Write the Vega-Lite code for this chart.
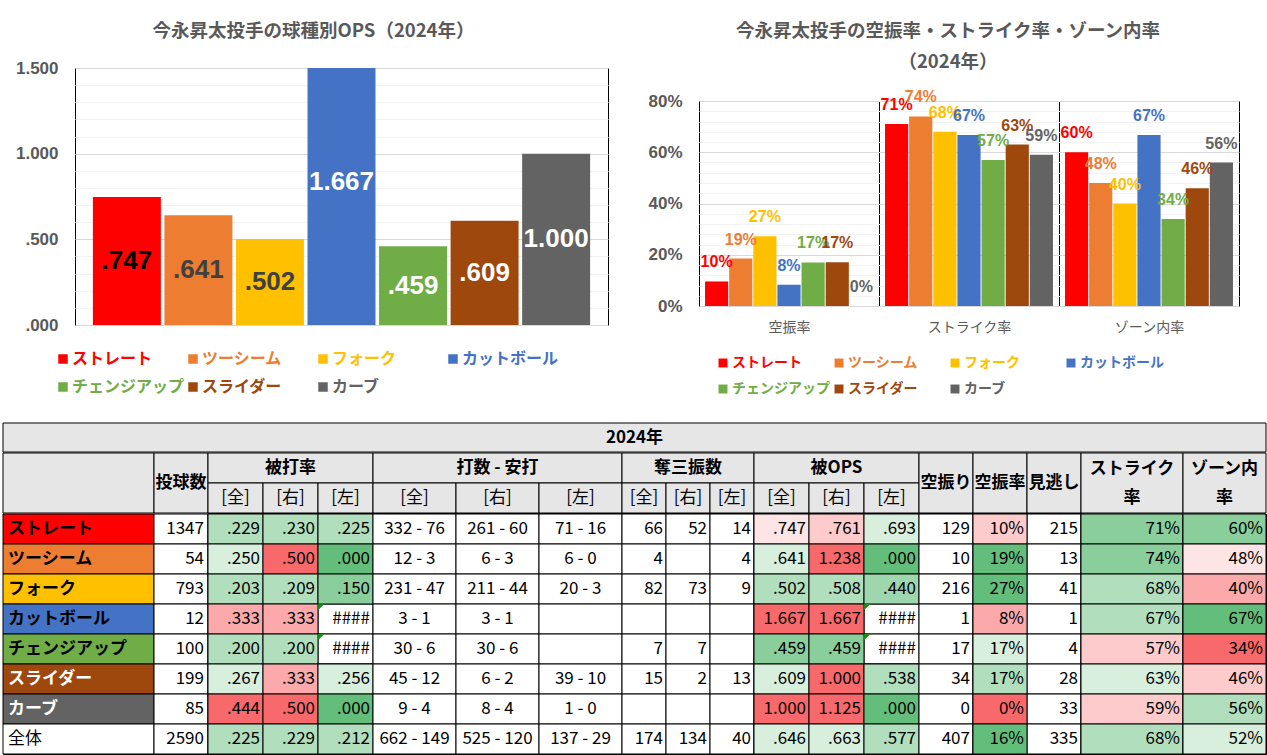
{
"$schema": "https://vega.github.io/schema/vega-lite/v6.json",
"background": "white",
"padding": {"left": 2, "top": 20, "right": 0, "bottom": 0},
"config": {"font": "Noto Sans CJK JP", "view": {"stroke": "black", "strokeWidth": 1}},
"datasets": {
"pitches": [
{"pitch":"ストレート","OPS":0.747,"OPS表示":".747","空振率":0.0958,"ストライク率":0.71,"ゾーン内率":0.60},
{"pitch":"ツーシーム","OPS":0.641,"OPS表示":".641","空振率":0.185,"ストライク率":0.74,"ゾーン内率":0.48},
{"pitch":"フォーク","OPS":0.502,"OPS表示":".502","空振率":0.272,"ストライク率":0.68,"ゾーン内率":0.40},
{"pitch":"カットボール","OPS":1.667,"OPS表示":"1.667","空振率":0.083,"ストライク率":0.667,"ゾーン内率":0.667},
{"pitch":"チェンジアップ","OPS":0.459,"OPS表示":".459","空振率":0.17,"ストライク率":0.57,"ゾーン内率":0.34},
{"pitch":"スライダー","OPS":0.609,"OPS表示":".609","空振率":0.171,"ストライク率":0.63,"ゾーン内率":0.46},
{"pitch":"カーブ","OPS":1.0,"OPS表示":"1.000","空振率":0,"ストライク率":0.59,"ゾーン内率":0.56}
],
"table": [
{"r":"ストレート","g":"name","c":"名","t":"ストレート"},
{"r":"ツーシーム","g":"name","c":"名","t":"ツーシーム"},
{"r":"フォーク","g":"name","c":"名","t":"フォーク"},
{"r":"カットボール","g":"name","c":"名","t":"カットボール"},
{"r":"チェンジアップ","g":"name","c":"名","t":"チェンジアップ"},
{"r":"スライダー","g":"name","c":"名","t":"スライダー"},
{"r":"カーブ","g":"name","c":"名","t":"カーブ"},
{"r":"全体","g":"name","c":"名","t":"全体"},
{"r":"ストレート","g":"n","c":"投球数","t":"1347"},
{"r":"ツーシーム","g":"n","c":"投球数","t":"54"},
{"r":"フォーク","g":"n","c":"投球数","t":"793"},
{"r":"カットボール","g":"n","c":"投球数","t":"12"},
{"r":"チェンジアップ","g":"n","c":"投球数","t":"100"},
{"r":"スライダー","g":"n","c":"投球数","t":"199"},
{"r":"カーブ","g":"n","c":"投球数","t":"85"},
{"r":"全体","g":"n","c":"投球数","t":"2590"},
{"r":"ストレート","g":"ba","c":"全","t":".229","h":-2},
{"r":"ストレート","g":"ba","c":"右","t":".230","h":-2},
{"r":"ストレート","g":"ba","c":"左","t":".225","h":-2},
{"r":"ツーシーム","g":"ba","c":"全","t":".250","h":-1},
{"r":"ツーシーム","g":"ba","c":"右","t":".500","h":4},
{"r":"ツーシーム","g":"ba","c":"左","t":".000","h":-4},
{"r":"フォーク","g":"ba","c":"全","t":".203","h":-2},
{"r":"フォーク","g":"ba","c":"右","t":".209","h":-2},
{"r":"フォーク","g":"ba","c":"左","t":".150","h":-3},
{"r":"カットボール","g":"ba","c":"全","t":".333","h":2.3},
{"r":"カットボール","g":"ba","c":"右","t":".333","h":2.3},
{"r":"カットボール","g":"ba","c":"左","t":"####"},
{"r":"チェンジアップ","g":"ba","c":"全","t":".200","h":-2},
{"r":"チェンジアップ","g":"ba","c":"右","t":".200","h":-2},
{"r":"チェンジアップ","g":"ba","c":"左","t":"####"},
{"r":"スライダー","g":"ba","c":"全","t":".267","h":-1},
{"r":"スライダー","g":"ba","c":"右","t":".333","h":2.3},
{"r":"スライダー","g":"ba","c":"左","t":".256","h":-1},
{"r":"カーブ","g":"ba","c":"全","t":".444","h":4},
{"r":"カーブ","g":"ba","c":"右","t":".500","h":4},
{"r":"カーブ","g":"ba","c":"左","t":".000","h":-4},
{"r":"全体","g":"ba","c":"全","t":".225","h":-2},
{"r":"全体","g":"ba","c":"右","t":".229","h":-2},
{"r":"全体","g":"ba","c":"左","t":".212","h":-2},
{"r":"ストレート","g":"ab","c":"全","t":"332 - 76"},
{"r":"ストレート","g":"ab","c":"右","t":"261 - 60"},
{"r":"ストレート","g":"ab","c":"左","t":"71 - 16"},
{"r":"ツーシーム","g":"ab","c":"全","t":"12 - 3"},
{"r":"ツーシーム","g":"ab","c":"右","t":"6 - 3"},
{"r":"ツーシーム","g":"ab","c":"左","t":"6 - 0"},
{"r":"フォーク","g":"ab","c":"全","t":"231 - 47"},
{"r":"フォーク","g":"ab","c":"右","t":"211 - 44"},
{"r":"フォーク","g":"ab","c":"左","t":"20 - 3"},
{"r":"カットボール","g":"ab","c":"全","t":"3 - 1"},
{"r":"カットボール","g":"ab","c":"右","t":"3 - 1"},
{"r":"カットボール","g":"ab","c":"左","t":""},
{"r":"チェンジアップ","g":"ab","c":"全","t":"30 - 6"},
{"r":"チェンジアップ","g":"ab","c":"右","t":"30 - 6"},
{"r":"チェンジアップ","g":"ab","c":"左","t":""},
{"r":"スライダー","g":"ab","c":"全","t":"45 - 12"},
{"r":"スライダー","g":"ab","c":"右","t":"6 - 2"},
{"r":"スライダー","g":"ab","c":"左","t":"39 - 10"},
{"r":"カーブ","g":"ab","c":"全","t":"9 - 4"},
{"r":"カーブ","g":"ab","c":"右","t":"8 - 4"},
{"r":"カーブ","g":"ab","c":"左","t":"1 - 0"},
{"r":"全体","g":"ab","c":"全","t":"662 - 149"},
{"r":"全体","g":"ab","c":"右","t":"525 - 120"},
{"r":"全体","g":"ab","c":"左","t":"137 - 29"},
{"r":"ストレート","g":"so","c":"全","t":"66"},
{"r":"ストレート","g":"so","c":"右","t":"52"},
{"r":"ストレート","g":"so","c":"左","t":"14"},
{"r":"ツーシーム","g":"so","c":"全","t":"4"},
{"r":"ツーシーム","g":"so","c":"右","t":""},
{"r":"ツーシーム","g":"so","c":"左","t":"4"},
{"r":"フォーク","g":"so","c":"全","t":"82"},
{"r":"フォーク","g":"so","c":"右","t":"73"},
{"r":"フォーク","g":"so","c":"左","t":"9"},
{"r":"カットボール","g":"so","c":"全","t":""},
{"r":"カットボール","g":"so","c":"右","t":""},
{"r":"カットボール","g":"so","c":"左","t":""},
{"r":"チェンジアップ","g":"so","c":"全","t":"7"},
{"r":"チェンジアップ","g":"so","c":"右","t":"7"},
{"r":"チェンジアップ","g":"so","c":"左","t":""},
{"r":"スライダー","g":"so","c":"全","t":"15"},
{"r":"スライダー","g":"so","c":"右","t":"2"},
{"r":"スライダー","g":"so","c":"左","t":"13"},
{"r":"カーブ","g":"so","c":"全","t":""},
{"r":"カーブ","g":"so","c":"右","t":""},
{"r":"カーブ","g":"so","c":"左","t":""},
{"r":"全体","g":"so","c":"全","t":"174"},
{"r":"全体","g":"so","c":"右","t":"134"},
{"r":"全体","g":"so","c":"左","t":"40"},
{"r":"ストレート","g":"ops","c":"全","t":".747","h":0.7},
{"r":"ストレート","g":"ops","c":"右","t":".761","h":1.4},
{"r":"ストレート","g":"ops","c":"左","t":".693","h":-1},
{"r":"ツーシーム","g":"ops","c":"全","t":".641","h":-1},
{"r":"ツーシーム","g":"ops","c":"右","t":"1.238","h":4},
{"r":"ツーシーム","g":"ops","c":"左","t":".000","h":-4},
{"r":"フォーク","g":"ops","c":"全","t":".502","h":-2},
{"r":"フォーク","g":"ops","c":"右","t":".508","h":-2},
{"r":"フォーク","g":"ops","c":"左","t":".440","h":-2.5},
{"r":"カットボール","g":"ops","c":"全","t":"1.667","h":4},
{"r":"カットボール","g":"ops","c":"右","t":"1.667","h":4},
{"r":"カットボール","g":"ops","c":"左","t":"####"},
{"r":"チェンジアップ","g":"ops","c":"全","t":".459","h":-3},
{"r":"チェンジアップ","g":"ops","c":"右","t":".459","h":-3},
{"r":"チェンジアップ","g":"ops","c":"左","t":"####"},
{"r":"スライダー","g":"ops","c":"全","t":".609","h":-1},
{"r":"スライダー","g":"ops","c":"右","t":"1.000","h":4},
{"r":"スライダー","g":"ops","c":"左","t":".538","h":-2},
{"r":"カーブ","g":"ops","c":"全","t":"1.000","h":4},
{"r":"カーブ","g":"ops","c":"右","t":"1.125","h":4},
{"r":"カーブ","g":"ops","c":"左","t":".000","h":-4},
{"r":"全体","g":"ops","c":"全","t":".646","h":-1},
{"r":"全体","g":"ops","c":"右","t":".663","h":-1},
{"r":"全体","g":"ops","c":"左","t":".577","h":-2},
{"r":"ストレート","g":"misc","c":"空振り","t":"129"},
{"r":"ストレート","g":"misc","c":"空振率","t":"10%","h":1.4},
{"r":"ストレート","g":"misc","c":"見逃し","t":"215"},
{"r":"ツーシーム","g":"misc","c":"空振り","t":"10"},
{"r":"ツーシーム","g":"misc","c":"空振率","t":"19%","h":-4},
{"r":"ツーシーム","g":"misc","c":"見逃し","t":"13"},
{"r":"フォーク","g":"misc","c":"空振り","t":"216"},
{"r":"フォーク","g":"misc","c":"空振率","t":"27%","h":-4},
{"r":"フォーク","g":"misc","c":"見逃し","t":"41"},
{"r":"カットボール","g":"misc","c":"空振り","t":"1"},
{"r":"カットボール","g":"misc","c":"空振率","t":"8%","h":2.3},
{"r":"カットボール","g":"misc","c":"見逃し","t":"1"},
{"r":"チェンジアップ","g":"misc","c":"空振り","t":"17"},
{"r":"チェンジアップ","g":"misc","c":"空振率","t":"17%","h":-1},
{"r":"チェンジアップ","g":"misc","c":"見逃し","t":"4"},
{"r":"スライダー","g":"misc","c":"空振り","t":"34"},
{"r":"スライダー","g":"misc","c":"空振率","t":"17%","h":-2},
{"r":"スライダー","g":"misc","c":"見逃し","t":"28"},
{"r":"カーブ","g":"misc","c":"空振り","t":"0"},
{"r":"カーブ","g":"misc","c":"空振率","t":"0%","h":4},
{"r":"カーブ","g":"misc","c":"見逃し","t":"33"},
{"r":"全体","g":"misc","c":"空振り","t":"407"},
{"r":"全体","g":"misc","c":"空振率","t":"16%","h":-4},
{"r":"全体","g":"misc","c":"見逃し","t":"335"},
{"r":"ストレート","g":"st","c":"ストライク率","t":"71%","h":-3},
{"r":"ツーシーム","g":"st","c":"ストライク率","t":"74%","h":-3},
{"r":"フォーク","g":"st","c":"ストライク率","t":"68%","h":-2},
{"r":"カットボール","g":"st","c":"ストライク率","t":"67%","h":-2},
{"r":"チェンジアップ","g":"st","c":"ストライク率","t":"57%","h":1.4},
{"r":"スライダー","g":"st","c":"ストライク率","t":"63%","h":-1},
{"r":"カーブ","g":"st","c":"ストライク率","t":"59%","h":1.4},
{"r":"全体","g":"st","c":"ストライク率","t":"68%","h":-2},
{"r":"ストレート","g":"zone","c":"ゾーン内率","t":"60%","h":-3},
{"r":"ツーシーム","g":"zone","c":"ゾーン内率","t":"48%","h":0.7},
{"r":"フォーク","g":"zone","c":"ゾーン内率","t":"40%","h":2.3},
{"r":"カットボール","g":"zone","c":"ゾーン内率","t":"67%","h":-4},
{"r":"チェンジアップ","g":"zone","c":"ゾーン内率","t":"34%","h":4},
{"r":"スライダー","g":"zone","c":"ゾーン内率","t":"46%","h":1.4},
{"r":"カーブ","g":"zone","c":"ゾーン内率","t":"56%","h":-2},
{"r":"全体","g":"zone","c":"ゾーン内率","t":"52%","h":-1}
]
},
"spacing": 25,
"resolve": {"scale": {"color": "independent", "fill": "independent"}, "legend": {"color": "independent"}},
"vconcat": [
{
"hconcat": [
{"width": 1, "height": 1, "data": {"values": [{"k": 1}]}, "mark": {"type": "rect", "opacity": 0}, "encoding": {}, "view": {"stroke": null}},
{"vconcat": [
{"width": 1, "height": 1, "data": {"values": [{"k": 1}]}, "mark": {"type": "rect", "opacity": 0}, "encoding": {}, "view": {"stroke": null}},
{
"width": 533, "height": 257,
"title": {"text": "今永昇太投手の球種別OPS（2024年）", "font": "Noto Sans CJK JP", "fontSize": 18.5, "fontWeight": "bold", "color": "#595959", "anchor": "middle", "dx": -28, "offset": 19},
"data": {"name": "pitches"},
"encoding": {"x": {"field": "pitch", "type": "nominal", "axis": null, "sort": null, "scale": {"domain": ["ストレート","ツーシーム","フォーク","カットボール","チェンジアップ","スライダー","カーブ"], "paddingInner": 0.05, "paddingOuter": 0.25}}},
"layer": [
{"mark": {"type": "bar", "clip": true},
 "encoding": {
  "y": {"field": "OPS", "type": "quantitative", "scale": {"domain": [0, 1.5], "nice": false},
        "axis": {"title": null, "values": [0,0.1,0.2,0.3,0.4,0.5,0.6,0.7,0.8,0.9,1.0,1.1,1.2,1.3,1.4,1.5],
                 "labelExpr": "round(datum.value*10) % 5 === 0 ? (datum.value < 1 ? slice(format(datum.value, '.3f'), 1) : format(datum.value, '.3f')) : ''",
                 "grid": true, "gridColor": {"condition": {"test": "round(datum.value*10) % 5 === 0", "value": "#D9D9D9"}, "value": "#F2F2F2"},
                 "domain": false, "ticks": false, "labelOverlap": false, "labelFont": "Liberation Sans", "labelFontSize": 17, "labelFontWeight": "bold", "labelColor": "#595959", "labelPadding": 17, "minExtent": 70}},
  "color": {"field": "pitch", "type": "nominal", "scale": {"domain": ["ストレート","ツーシーム","フォーク","カットボール","チェンジアップ","スライダー","カーブ"], "range": ["#FF0000","#ED7D31","#FFC000","#4472C4","#70AD47","#9E480E","#636363"]},
            "legend": {"title": null, "orient": "none", "legendX": -20, "legendY": 283, "direction": "horizontal", "columns": 4, "gridAlign": "all", "symbolType": "square", "symbolSize": 90, "symbolStrokeWidth": 0, "labelFont": "Noto Sans CJK JP", "labelFontSize": 16, "labelFontWeight": "bold", "labelOffset": 1, "columnPadding": 0, "rowPadding": 12,
                       "encode": {"labels": {"update": {"fill": {"signal": "['#FF0000','#ED7D31','#FFC000','#4472C4','#70AD47','#9E480E','#636363'][indexof(['ストレート','ツーシーム','フォーク','カットボール','チェンジアップ','スライダー','カーブ'], datum.value)]"}}}}}}
 }},
{"mark": {"type": "text", "font": "Liberation Sans", "fontSize": 26, "fontWeight": "bold", "baseline": "middle"},
 "encoding": {
  "y": {"field": "OPS", "type": "quantitative", "scale": {"domain": [0, 3], "nice": false}, "axis": null},
  "text": {"field": "OPS表示", "type": "nominal"},
  "color": {"condition": [{"test": "datum.pitch === 'ストレート'", "value": "#000000"}, {"test": "datum.pitch === 'ツーシーム' || datum.pitch === 'フォーク'", "value": "#404040"}], "value": "#FFFFFF"}
 }}
],
"resolve": {"scale": {"y": "independent"}}
}
], "spacing": 0, "resolve": {"scale": {"color": "independent"}, "legend": {"color": "independent"}}},
{"vconcat": [
{"width": 1, "height": 1, "data": {"values": [{"k": 1}]}, "mark": {"type": "rect", "opacity": 0}, "encoding": {}, "view": {"stroke": null}},
{
"width": 540, "height": 205,
"title": {"text": ["今永昇太投手の空振率・ストライク率・ゾーン内率", "（2024年）"], "lineHeight": 31, "font": "Noto Sans CJK JP", "fontSize": 18.5, "fontWeight": "bold", "color": "#595959", "anchor": "middle", "dx": -21, "offset": 18},
"data": {"name": "pitches"},
"transform": [{"fold": ["空振率", "ストライク率", "ゾーン内率"], "as": ["metric", "rate"]}],
"encoding": {
 "x": {"field": "metric", "type": "nominal", "sort": null, "scale": {"domain": ["空振率", "ストライク率", "ゾーン内率"], "paddingInner": 0, "paddingOuter": 0},
       "axis": {"title": null, "labelAngle": 0, "grid": true, "tickBand": "extent", "gridColor": "#000000", "ticks": false, "domain": false, "labelFont": "Noto Sans CJK JP", "labelFontSize": 14, "labelColor": "#595959", "labelPadding": 14}},
 "xOffset": {"field": "pitch", "type": "nominal", "sort": null, "scale": {"domain": ["ストレート","ツーシーム","フォーク","カットボール","チェンジアップ","スライダー","カーブ"], "paddingInner": 0.04, "paddingOuter": 0.25}},
 "y": {"field": "rate", "type": "quantitative", "scale": {"domain": [0, 0.8], "nice": false},
       "axis": {"title": null, "values": [0,0.04,0.08,0.12,0.16,0.2,0.24,0.28,0.32,0.36,0.4,0.44,0.48,0.52,0.56,0.6,0.64,0.68,0.72,0.76,0.8],
                "labelExpr": "round(datum.value*100) % 20 === 0 ? format(datum.value, '.0%') : ''",
                "grid": true, "gridColor": {"condition": {"test": "round(datum.value*100) % 20 === 0", "value": "#D9D9D9"}, "value": "#F2F2F2"},
                "domain": false, "ticks": false, "labelOverlap": false, "labelFont": "Liberation Sans", "labelFontSize": 17, "labelFontWeight": "bold", "labelColor": "#595959", "labelPadding": 17, "minExtent": 89}},
 "color": {"field": "pitch", "type": "nominal", "scale": {"domain": ["ストレート","ツーシーム","フォーク","カットボール","チェンジアップ","スライダー","カーブ"], "range": ["#FF0000","#ED7D31","#FFC000","#4472C4","#70AD47","#9E480E","#636363"]},
           "legend": {"title": null, "orient": "none", "legendX": 17, "legendY": 255, "direction": "horizontal", "columns": 4, "gridAlign": "all", "symbolType": "square", "symbolSize": 80, "symbolStrokeWidth": 0, "labelFont": "Noto Sans CJK JP", "labelFontSize": 14, "labelFontWeight": "bold", "labelOffset": 2, "columnPadding": 2, "rowPadding": 12,
                      "encode": {"labels": {"update": {"fill": {"signal": "['#FF0000','#ED7D31','#FFC000','#4472C4','#70AD47','#9E480E','#636363'][indexof(['ストレート','ツーシーム','フォーク','カットボール','チェンジアップ','スライダー','カーブ'], datum.value)]"}}}}}}
},
"layer": [
 {"mark": {"type": "bar"}},
 {"mark": {"type": "text", "font": "Liberation Sans", "fontSize": 16, "fontWeight": "bold", "baseline": "middle", "dy": -19},
  "encoding": {"text": {"field": "rate", "type": "quantitative", "format": ".0%"}}}
]
}
], "spacing": 0, "resolve": {"scale": {"color": "independent"}, "legend": {"color": "independent"}}}
],
"spacing": 0,
"resolve": {"scale": {"color": "independent"}, "legend": {"color": "independent"}}
},
{
"vconcat": [
{"width": 1263, "height": 29, "data": {"values": [{"label": "2024年"}]},
 "layer": [
  {"mark": {"type": "rect", "fill": "#E7E6E6", "stroke": "black", "strokeWidth": 1}, "encoding": {}},
  {"mark": {"type": "text", "fontSize": 17, "fontWeight": "bold"}, "encoding": {"text": {"field": "label", "type": "nominal"}}}
 ]},
{"hconcat": [
 {"width": 151, "height": 60, "data": {"values": [{"label": ""}]},
  "mark": {"type": "rect", "fill": "#E7E6E6", "stroke": "black", "strokeWidth": 1}, "encoding": {}},
 {"width": 54, "height": 60, "data": {"values": [{"label": "投球数"}]},
  "layer": [
   {"mark": {"type": "rect", "fill": "#E7E6E6", "stroke": "black", "strokeWidth": 1}, "encoding": {}},
   {"mark": {"type": "text", "fontSize": 17, "fontWeight": "bold"}, "encoding": {"text": {"field": "label", "type": "nominal"}}}
  ]},
 {"width": 165, "height": 60,
  "data": {"values": [{"row": "top", "col": "全", "label": "被打率"}, {"row": "sub", "col": "全", "label": "[全]"}, {"row": "sub", "col": "右", "label": "[右]"}, {"row": "sub", "col": "左", "label": "[左]"}]},
  "encoding": {"y": {"field": "row", "type": "nominal", "axis": null, "scale": {"domain": ["top", "sub"], "padding": 0}}},
  "layer": [
   {"transform": [{"filter": "datum.row === 'top'"}], "mark": {"type": "rect", "fill": "#E7E6E6", "stroke": "black", "strokeWidth": 1}},
   {"transform": [{"filter": "datum.row === 'top'"}], "mark": {"type": "text", "fontSize": 17, "fontWeight": "bold"}, "encoding": {"text": {"field": "label", "type": "nominal"}}},
   {"transform": [{"filter": "datum.row === 'sub'"}], "mark": {"type": "rect", "fill": "#E7E6E6", "stroke": "black", "strokeWidth": 1}, "encoding": {"x": {"field": "col", "type": "nominal", "axis": null, "scale": {"domain": ["全", "右", "左"], "padding": 0}}}},
   {"transform": [{"filter": "datum.row === 'sub'"}], "mark": {"type": "text", "fontSize": 17}, "encoding": {"x": {"field": "col", "type": "nominal", "axis": null, "scale": {"domain": ["全", "右", "左"], "padding": 0}}, "text": {"field": "label", "type": "nominal"}}}
  ]},
 {"width": 249, "height": 60,
  "data": {"values": [{"row": "top", "col": "全", "label": "打数 - 安打"}, {"row": "sub", "col": "全", "label": "[全]"}, {"row": "sub", "col": "右", "label": "[右]"}, {"row": "sub", "col": "左", "label": "[左]"}]},
  "encoding": {"y": {"field": "row", "type": "nominal", "axis": null, "scale": {"domain": ["top", "sub"], "padding": 0}}},
  "layer": [
   {"transform": [{"filter": "datum.row === 'top'"}], "mark": {"type": "rect", "fill": "#E7E6E6", "stroke": "black", "strokeWidth": 1}},
   {"transform": [{"filter": "datum.row === 'top'"}], "mark": {"type": "text", "fontSize": 17, "fontWeight": "bold"}, "encoding": {"text": {"field": "label", "type": "nominal"}}},
   {"transform": [{"filter": "datum.row === 'sub'"}], "mark": {"type": "rect", "fill": "#E7E6E6", "stroke": "black", "strokeWidth": 1}, "encoding": {"x": {"field": "col", "type": "nominal", "axis": null, "scale": {"domain": ["全", "右", "左"], "padding": 0}}}},
   {"transform": [{"filter": "datum.row === 'sub'"}], "mark": {"type": "text", "fontSize": 17}, "encoding": {"x": {"field": "col", "type": "nominal", "axis": null, "scale": {"domain": ["全", "右", "左"], "padding": 0}}, "text": {"field": "label", "type": "nominal"}}}
  ]},
 {"width": 132, "height": 60,
  "data": {"values": [{"row": "top", "col": "全", "label": "奪三振数"}, {"row": "sub", "col": "全", "label": "[全]"}, {"row": "sub", "col": "右", "label": "[右]"}, {"row": "sub", "col": "左", "label": "[左]"}]},
  "encoding": {"y": {"field": "row", "type": "nominal", "axis": null, "scale": {"domain": ["top", "sub"], "padding": 0}}},
  "layer": [
   {"transform": [{"filter": "datum.row === 'top'"}], "mark": {"type": "rect", "fill": "#E7E6E6", "stroke": "black", "strokeWidth": 1}},
   {"transform": [{"filter": "datum.row === 'top'"}], "mark": {"type": "text", "fontSize": 17, "fontWeight": "bold"}, "encoding": {"text": {"field": "label", "type": "nominal"}}},
   {"transform": [{"filter": "datum.row === 'sub'"}], "mark": {"type": "rect", "fill": "#E7E6E6", "stroke": "black", "strokeWidth": 1}, "encoding": {"x": {"field": "col", "type": "nominal", "axis": null, "scale": {"domain": ["全", "右", "左"], "padding": 0}}}},
   {"transform": [{"filter": "datum.row === 'sub'"}], "mark": {"type": "text", "fontSize": 17}, "encoding": {"x": {"field": "col", "type": "nominal", "axis": null, "scale": {"domain": ["全", "右", "左"], "padding": 0}}, "text": {"field": "label", "type": "nominal"}}}
  ]},
 {"width": 165, "height": 60,
  "data": {"values": [{"row": "top", "col": "全", "label": "被OPS"}, {"row": "sub", "col": "全", "label": "[全]"}, {"row": "sub", "col": "右", "label": "[右]"}, {"row": "sub", "col": "左", "label": "[左]"}]},
  "encoding": {"y": {"field": "row", "type": "nominal", "axis": null, "scale": {"domain": ["top", "sub"], "padding": 0}}},
  "layer": [
   {"transform": [{"filter": "datum.row === 'top'"}], "mark": {"type": "rect", "fill": "#E7E6E6", "stroke": "black", "strokeWidth": 1}},
   {"transform": [{"filter": "datum.row === 'top'"}], "mark": {"type": "text", "fontSize": 17, "fontWeight": "bold"}, "encoding": {"text": {"field": "label", "type": "nominal"}}},
   {"transform": [{"filter": "datum.row === 'sub'"}], "mark": {"type": "rect", "fill": "#E7E6E6", "stroke": "black", "strokeWidth": 1}, "encoding": {"x": {"field": "col", "type": "nominal", "axis": null, "scale": {"domain": ["全", "右", "左"], "padding": 0}}}},
   {"transform": [{"filter": "datum.row === 'sub'"}], "mark": {"type": "text", "fontSize": 17}, "encoding": {"x": {"field": "col", "type": "nominal", "axis": null, "scale": {"domain": ["全", "右", "左"], "padding": 0}}, "text": {"field": "label", "type": "nominal"}}}
  ]},
 {"width": 162, "height": 60,
  "data": {"values": [{"col": "空振り"}, {"col": "空振率"}, {"col": "見逃し"}]},
  "encoding": {"x": {"field": "col", "type": "nominal", "axis": null, "scale": {"domain": ["空振り", "空振率", "見逃し"], "padding": 0}}},
  "layer": [
   {"mark": {"type": "rect", "fill": "#E7E6E6", "stroke": "black", "strokeWidth": 1}},
   {"mark": {"type": "text", "fontSize": 17, "fontWeight": "bold"}, "encoding": {"text": {"field": "col", "type": "nominal"}}}
  ]},
 {"width": 102, "height": 60, "data": {"values": [{"label": ["ストライク", "率"]}]},
  "layer": [
   {"mark": {"type": "rect", "fill": "#E7E6E6", "stroke": "black", "strokeWidth": 1}, "encoding": {}},
   {"mark": {"type": "text", "fontSize": 17, "fontWeight": "bold", "lineHeight": 29, "dy": -14.5}, "encoding": {"text": {"field": "label", "type": "nominal"}}}
  ]},
 {"width": 83, "height": 60, "data": {"values": [{"label": ["ゾーン内", "率"]}]},
  "layer": [
   {"mark": {"type": "rect", "fill": "#E7E6E6", "stroke": "black", "strokeWidth": 1}, "encoding": {}},
   {"mark": {"type": "text", "fontSize": 17, "fontWeight": "bold", "lineHeight": 29, "dy": -14.5}, "encoding": {"text": {"field": "label", "type": "nominal"}}}
  ]}
], "spacing": 0, "bounds": "flush"},
{"hconcat": [
 {"width": 151, "height": 240, "data": {"name": "table"}, "transform": [{"filter": "datum.g === 'name'"}],
  "encoding": {"x": {"field": "c", "type": "nominal", "axis": null, "scale": {"padding": 0}},
               "y": {"field": "r", "type": "nominal", "axis": null, "scale": {"domain": ["ストレート","ツーシーム","フォーク","カットボール","チェンジアップ","スライダー","カーブ","全体"], "padding": 0}}},
  "layer": [
   {"mark": {"type": "rect", "stroke": "black", "strokeWidth": 1},
    "encoding": {"fill": {"field": "r", "type": "nominal", "scale": {"domain": ["ストレート","ツーシーム","フォーク","カットボール","チェンジアップ","スライダー","カーブ","全体"], "range": ["#FF0000","#ED7D31","#FFC000","#4472C4","#70AD47","#9E480E","#636363","#FFFFFF"]}, "legend": null}}},
   {"transform": [{"filter": "datum.r !== '全体'"}], "mark": {"type": "text", "align": "left", "dx": 5, "fontSize": 17, "fontWeight": "bold"},
    "encoding": {"x": {"field": "c", "type": "nominal", "axis": null, "scale": {"padding": 0}, "bandPosition": 0}, "text": {"field": "t", "type": "nominal"},
                 "color": {"condition": {"test": "datum.r === 'スライダー' || datum.r === 'カーブ'", "value": "#FFFFFF"}, "value": "#000000"}}},
   {"transform": [{"filter": "datum.r === '全体'"}], "mark": {"type": "text", "align": "left", "dx": 5, "fontSize": 17, "color": "#000000"},
    "encoding": {"x": {"field": "c", "type": "nominal", "axis": null, "scale": {"padding": 0}, "bandPosition": 0}, "text": {"field": "t", "type": "nominal"}}}
  ]},
 {"width": 54, "height": 240, "data": {"name": "table"}, "transform": [{"filter": "datum.g === 'n'"}],
  "encoding": {"x": {"field": "c", "type": "nominal", "axis": null, "scale": {"padding": 0}},
               "y": {"field": "r", "type": "nominal", "axis": null, "scale": {"domain": ["ストレート","ツーシーム","フォーク","カットボール","チェンジアップ","スライダー","カーブ","全体"], "padding": 0}}},
  "layer": [
   {"mark": {"type": "rect", "fill": "#FFFFFF", "stroke": "black", "strokeWidth": 1}},
   {"mark": {"type": "text", "align": "right", "dx": -4, "fontSize": 17, "color": "#000000"},
    "encoding": {"x": {"field": "c", "type": "nominal", "axis": null, "scale": {"padding": 0}, "bandPosition": 1}, "text": {"field": "t", "type": "nominal"}}}
  ]},
 {"width": 165, "height": 240, "data": {"name": "table"}, "transform": [{"filter": "datum.g === 'ba'"}],
  "encoding": {"x": {"field": "c", "type": "nominal", "axis": null, "scale": {"domain": ["全", "右", "左"], "padding": 0}},
               "y": {"field": "r", "type": "nominal", "axis": null, "scale": {"domain": ["ストレート","ツーシーム","フォーク","カットボール","チェンジアップ","スライダー","カーブ","全体"], "padding": 0}}},
  "layer": [
   {"mark": {"type": "rect", "fill": "#FFFFFF", "stroke": "black", "strokeWidth": 1}},
   {"transform": [{"filter": "isValid(datum.h)"}], "mark": {"type": "rect", "stroke": "black", "strokeWidth": 1},
    "encoding": {"fill": {"field": "h", "type": "quantitative", "scale": {"domain": [-4, 0, 4], "range": ["#63BE7B", "#FFFFFF", "#F8696B"], "interpolate": "rgb", "zero": false, "nice": false}, "legend": null}}},
   {"transform": [{"filter": "datum.t === '####'"}], "mark": {"type": "point", "shape": "M0,0L1,0L0,1Z", "filled": true, "color": "#178A17", "size": 160, "strokeWidth": 0, "opacity": 1, "dx": 1, "dy": 1},
    "encoding": {"x": {"field": "c", "type": "nominal", "axis": null, "scale": {"domain": ["全", "右", "左"], "padding": 0}, "bandPosition": 0},
                 "y": {"field": "r", "type": "nominal", "axis": null, "scale": {"domain": ["ストレート","ツーシーム","フォーク","カットボール","チェンジアップ","スライダー","カーブ","全体"], "padding": 0}, "bandPosition": 0}}},
   {"mark": {"type": "text", "align": "right", "dx": -3, "fontSize": 17, "color": "#000000"},
    "encoding": {"x": {"field": "c", "type": "nominal", "axis": null, "scale": {"domain": ["全", "右", "左"], "padding": 0}, "bandPosition": 1}, "text": {"field": "t", "type": "nominal"}}}
  ]},
 {"width": 249, "height": 240, "data": {"name": "table"}, "transform": [{"filter": "datum.g === 'ab'"}],
  "encoding": {"x": {"field": "c", "type": "nominal", "axis": null, "scale": {"domain": ["全", "右", "左"], "padding": 0}},
               "y": {"field": "r", "type": "nominal", "axis": null, "scale": {"domain": ["ストレート","ツーシーム","フォーク","カットボール","チェンジアップ","スライダー","カーブ","全体"], "padding": 0}}},
  "layer": [
   {"mark": {"type": "rect", "fill": "#FFFFFF", "stroke": "black", "strokeWidth": 1}},
   {"mark": {"type": "text", "align": "center", "fontSize": 17, "color": "#000000"}, "encoding": {"text": {"field": "t", "type": "nominal"}}}
  ]},
 {"width": 132, "height": 240, "data": {"name": "table"}, "transform": [{"filter": "datum.g === 'so'"}],
  "encoding": {"x": {"field": "c", "type": "nominal", "axis": null, "scale": {"domain": ["全", "右", "左"], "padding": 0}},
               "y": {"field": "r", "type": "nominal", "axis": null, "scale": {"domain": ["ストレート","ツーシーム","フォーク","カットボール","チェンジアップ","スライダー","カーブ","全体"], "padding": 0}}},
  "layer": [
   {"mark": {"type": "rect", "fill": "#FFFFFF", "stroke": "black", "strokeWidth": 1}},
   {"mark": {"type": "text", "align": "right", "dx": -3, "fontSize": 17, "color": "#000000"},
    "encoding": {"x": {"field": "c", "type": "nominal", "axis": null, "scale": {"domain": ["全", "右", "左"], "padding": 0}, "bandPosition": 1}, "text": {"field": "t", "type": "nominal"}}}
  ]},
 {"width": 165, "height": 240, "data": {"name": "table"}, "transform": [{"filter": "datum.g === 'ops'"}],
  "encoding": {"x": {"field": "c", "type": "nominal", "axis": null, "scale": {"domain": ["全", "右", "左"], "padding": 0}},
               "y": {"field": "r", "type": "nominal", "axis": null, "scale": {"domain": ["ストレート","ツーシーム","フォーク","カットボール","チェンジアップ","スライダー","カーブ","全体"], "padding": 0}}},
  "layer": [
   {"mark": {"type": "rect", "fill": "#FFFFFF", "stroke": "black", "strokeWidth": 1}},
   {"transform": [{"filter": "isValid(datum.h)"}], "mark": {"type": "rect", "stroke": "black", "strokeWidth": 1},
    "encoding": {"fill": {"field": "h", "type": "quantitative", "scale": {"domain": [-4, 0, 4], "range": ["#63BE7B", "#FFFFFF", "#F8696B"], "interpolate": "rgb", "zero": false, "nice": false}, "legend": null}}},
   {"transform": [{"filter": "datum.t === '####'"}], "mark": {"type": "point", "shape": "M0,0L1,0L0,1Z", "filled": true, "color": "#178A17", "size": 160, "strokeWidth": 0, "opacity": 1, "dx": 1, "dy": 1},
    "encoding": {"x": {"field": "c", "type": "nominal", "axis": null, "scale": {"domain": ["全", "右", "左"], "padding": 0}, "bandPosition": 0},
                 "y": {"field": "r", "type": "nominal", "axis": null, "scale": {"domain": ["ストレート","ツーシーム","フォーク","カットボール","チェンジアップ","スライダー","カーブ","全体"], "padding": 0}, "bandPosition": 0}}},
   {"mark": {"type": "text", "align": "right", "dx": -3, "fontSize": 17, "color": "#000000"},
    "encoding": {"x": {"field": "c", "type": "nominal", "axis": null, "scale": {"domain": ["全", "右", "左"], "padding": 0}, "bandPosition": 1}, "text": {"field": "t", "type": "nominal"}}}
  ]},
 {"width": 162, "height": 240, "data": {"name": "table"}, "transform": [{"filter": "datum.g === 'misc'"}],
  "encoding": {"x": {"field": "c", "type": "nominal", "axis": null, "scale": {"domain": ["空振り", "空振率", "見逃し"], "padding": 0}},
               "y": {"field": "r", "type": "nominal", "axis": null, "scale": {"domain": ["ストレート","ツーシーム","フォーク","カットボール","チェンジアップ","スライダー","カーブ","全体"], "padding": 0}}},
  "layer": [
   {"mark": {"type": "rect", "fill": "#FFFFFF", "stroke": "black", "strokeWidth": 1}},
   {"transform": [{"filter": "isValid(datum.h)"}], "mark": {"type": "rect", "stroke": "black", "strokeWidth": 1},
    "encoding": {"fill": {"field": "h", "type": "quantitative", "scale": {"domain": [-4, 0, 4], "range": ["#63BE7B", "#FFFFFF", "#F8696B"], "interpolate": "rgb", "zero": false, "nice": false}, "legend": null}}},
   {"mark": {"type": "text", "align": "right", "dx": -3, "fontSize": 17, "color": "#000000"},
    "encoding": {"x": {"field": "c", "type": "nominal", "axis": null, "scale": {"domain": ["空振り", "空振率", "見逃し"], "padding": 0}, "bandPosition": 1}, "text": {"field": "t", "type": "nominal"}}}
  ]},
 {"width": 102, "height": 240, "data": {"name": "table"}, "transform": [{"filter": "datum.g === 'st'"}],
  "encoding": {"x": {"field": "c", "type": "nominal", "axis": null, "scale": {"padding": 0}},
               "y": {"field": "r", "type": "nominal", "axis": null, "scale": {"domain": ["ストレート","ツーシーム","フォーク","カットボール","チェンジアップ","スライダー","カーブ","全体"], "padding": 0}}},
  "layer": [
   {"mark": {"type": "rect", "fill": "#FFFFFF", "stroke": "black", "strokeWidth": 1}},
   {"transform": [{"filter": "isValid(datum.h)"}], "mark": {"type": "rect", "stroke": "black", "strokeWidth": 1},
    "encoding": {"fill": {"field": "h", "type": "quantitative", "scale": {"domain": [-4, 0, 4], "range": ["#63BE7B", "#FFFFFF", "#F8696B"], "interpolate": "rgb", "zero": false, "nice": false}, "legend": null}}},
   {"mark": {"type": "text", "align": "right", "dx": -3, "fontSize": 17, "color": "#000000"},
    "encoding": {"x": {"field": "c", "type": "nominal", "axis": null, "scale": {"padding": 0}, "bandPosition": 1}, "text": {"field": "t", "type": "nominal"}}}
  ]},
 {"width": 83, "height": 240, "data": {"name": "table"}, "transform": [{"filter": "datum.g === 'zone'"}],
  "encoding": {"x": {"field": "c", "type": "nominal", "axis": null, "scale": {"padding": 0}},
               "y": {"field": "r", "type": "nominal", "axis": null, "scale": {"domain": ["ストレート","ツーシーム","フォーク","カットボール","チェンジアップ","スライダー","カーブ","全体"], "padding": 0}}},
  "layer": [
   {"mark": {"type": "rect", "fill": "#FFFFFF", "stroke": "black", "strokeWidth": 1}},
   {"transform": [{"filter": "isValid(datum.h)"}], "mark": {"type": "rect", "stroke": "black", "strokeWidth": 1},
    "encoding": {"fill": {"field": "h", "type": "quantitative", "scale": {"domain": [-4, 0, 4], "range": ["#63BE7B", "#FFFFFF", "#F8696B"], "interpolate": "rgb", "zero": false, "nice": false}, "legend": null}}},
   {"mark": {"type": "text", "align": "right", "dx": -3, "fontSize": 17, "color": "#000000"},
    "encoding": {"x": {"field": "c", "type": "nominal", "axis": null, "scale": {"padding": 0}, "bandPosition": 1}, "text": {"field": "t", "type": "nominal"}}}
  ]}
], "spacing": 0, "bounds": "flush", "resolve": {"scale": {"fill": "independent"}}}
],
"spacing": -2, "resolve": {"scale": {"fill": "independent"}}
}
]
}
